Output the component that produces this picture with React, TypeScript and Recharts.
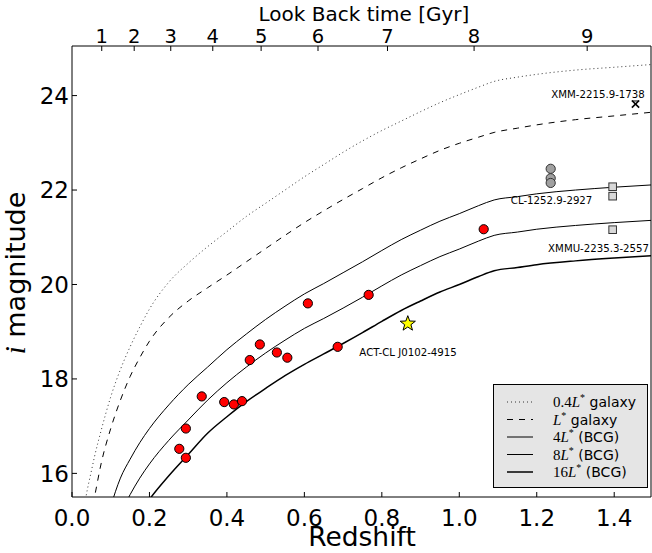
import { ComposedChart, Legend, Line, Scatter, XAxis, YAxis } from "recharts";

// redshift grid shared by the model curves
const zGrid = [0.03, 0.036, 0.05, 0.058, 0.075, 0.1, 0.125, 0.15, 0.175, 0.2, 0.25, 0.3, 0.35, 0.4, 0.45, 0.5, 0.55, 0.6, 0.65, 0.7, 0.75, 0.8, 0.85, 0.9, 0.95, 1.0, 1.05, 1.09, 1.15, 1.2, 1.3, 1.4, 1.5];

// i-band magnitude of each model track (null = off the bottom of the plot)
const mag04L = [15.2, 15.5, 16.05, 16.35, 16.9, 17.62, 18.2, 18.68, 19.1, 19.48, 20.05, 20.45, 20.8, 21.12, 21.44, 21.72, 22.0, 22.28, 22.54, 22.8, 23.04, 23.26, 23.46, 23.66, 23.85, 24.02, 24.18, 24.3, 24.39, 24.45, 24.54, 24.6, 24.66];
const mag1L = [null, 14.6, 15.2, 15.5, 16.2, 16.95, 17.55, 18.05, 18.45, 18.8, 19.3, 19.65, 19.93, 20.2, 20.48, 20.76, 21.04, 21.31, 21.56, 21.8, 22.03, 22.26, 22.47, 22.66, 22.84, 22.99, 23.12, 23.22, 23.31, 23.38, 23.49, 23.57, 23.65];
const mag4L = [null, null, null, null, 14.55, 15.3, 15.9, 16.3, 16.65, 16.95, 17.45, 17.88, 18.25, 18.62, 18.95, 19.26, 19.54, 19.8, 20.02, 20.25, 20.48, 20.72, 20.95, 21.15, 21.34, 21.5, 21.67, 21.79, 21.86, 21.92, 22.0, 22.06, 22.11];
const mag8L = [null, null, null, null, null, null, 15.15, 15.55, 15.9, 16.2, 16.7, 17.13, 17.55, 17.92, 18.25, 18.55, 18.82, 19.07, 19.28, 19.5, 19.73, 19.97, 20.2, 20.4, 20.59, 20.75, 20.92, 21.04, 21.11, 21.17, 21.25, 21.31, 21.36];
const mag16L = [null, null, null, null, null, null, null, null, 15.15, 15.45, 15.95, 16.4, 16.85, 17.2, 17.52, 17.8, 18.07, 18.31, 18.53, 18.75, 18.98, 19.22, 19.45, 19.65, 19.84, 20.0, 20.17, 20.29, 20.36, 20.42, 20.5, 20.56, 20.61];

// BCGs
const bcgZ = [0.277, 0.294, 0.294, 0.335, 0.393, 0.418, 0.439, 0.459, 0.485, 0.529, 0.556, 0.609, 0.686, 0.766, 1.063];
const bcgMag = [16.52, 16.95, 16.33, 17.63, 17.51, 17.46, 17.53, 18.4, 18.73, 18.56, 18.45, 19.6, 18.68, 19.78, 21.17];

const actZ = [0.867];
const actMag = [19.17];

const cl1252Z = [1.236, 1.236, 1.236];
const cl1252Mag = [22.45, 22.25, 22.15];

const xmmuZ = [1.396, 1.396, 1.396];
const xmmuMag = [22.07, 21.87, 21.16];

const xmmZ = [1.455];
const xmmMag = [23.82];

const clusterNames = ["XMM-2215.9-1738", "CL-1252.9-2927", "XMMU-2235.3-2557", "ACT-CL J0102-4915"];
const clusterLabelZ = [1.479, 1.133, 1.49, 0.742];
const clusterLabelMag = [24.02, 21.77, 20.77, 18.55];
const clusterLabelAnchor = ["end", "start", "end", "start"];

const redshiftTicks = [0, 0.2, 0.4, 0.6, 0.8, 1.0, 1.2, 1.4];
const magTicks = [16, 18, 20, 22, 24];
const lookbackGyr = [1, 2, 3, 4, 5, 6, 7, 8, 9];
const lookbackZ = [0.0768, 0.1606, 0.255, 0.3635, 0.4883, 0.6352, 0.8146, 1.0382, 1.3302];

const legendPre = ["0.4", "", "4", "8", "16"];
const legendPost = [" galaxy", " galaxy", " (BCG)", " (BCG)", " (BCG)"];

const curveRows = zGrid.map((z, i) => ({
  z,
  l04: mag04L[i],
  l1: mag1L[i],
  l4: mag4L[i],
  l8: mag8L[i],
  l16: mag16L[i],
}));

const toPoints = (zs: number[], mags: number[]) => zs.map((z, i) => ({ z, mag: mags[i] }));
const labelRows = clusterNames.map((name, i) => ({
  z: clusterLabelZ[i],
  mag: clusterLabelMag[i],
  name,
  anchor: clusterLabelAnchor[i],
}));

const SANS = "'DejaVu Sans', 'Bitstream Vera Sans', sans-serif";
const SERIF = "'Liberation Serif', 'DejaVu Serif', serif";
const X_DOMAIN: [number, number] = [0, 1.495];
const Y_DOMAIN: [number, number] = [15.5, 25.05];

const legendStyles = [
  { dash: "1 3", width: 1, color: "#333" },
  { dash: "6 6", width: 1, color: "#000" },
  { dash: undefined, width: 1, color: "#000" },
  { dash: undefined, width: 1, color: "#000" },
  { dash: undefined, width: 1.5, color: "#000" },
];

function lookbackLabel(v: number) {
  let best = 0;
  lookbackZ.forEach((z, i) => {
    if (Math.abs(z - v) < Math.abs(lookbackZ[best] - v)) best = i;
  });
  return String(lookbackGyr[best]);
}

function RedDot(p: any) {
  return <circle cx={p.cx} cy={p.cy} r={4.6} fill="#ff0000" stroke="#000" strokeWidth={1} />;
}

function GreyDot(p: any) {
  return <circle cx={p.cx} cy={p.cy} r={4.6} fill="#a0a0a0" stroke="#333" strokeWidth={1} />;
}

function GreySquare(p: any) {
  return <rect x={p.cx - 3.8} y={p.cy - 3.8} width={7.6} height={7.6} fill="#d8d8d8" stroke="#333" strokeWidth={1} />;
}

function StarMark(p: any) {
  const pts: string[] = [];
  for (let k = 0; k < 10; k++) {
    const r = k % 2 === 0 ? 8 : 3.3;
    const a = -Math.PI / 2 + (k * Math.PI) / 5;
    pts.push(`${p.cx + r * Math.cos(a)},${p.cy + r * Math.sin(a)}`);
  }
  return <polygon points={pts.join(" ")} fill="#ffff00" stroke="#000" strokeWidth={1} />;
}

function CrossMark(p: any) {
  const s = 3.6;
  return (
    <g stroke="#000" strokeWidth={1.6}>
      <line x1={p.cx - s} y1={p.cy - s} x2={p.cx + s} y2={p.cy + s} />
      <line x1={p.cx - s} y1={p.cy + s} x2={p.cx + s} y2={p.cy - s} />
      <line x1={p.cx - s} y1={p.cy - s + 0.5} x2={p.cx + s} y2={p.cy - s + 0.5} strokeWidth={1} />
    </g>
  );
}

function ClusterLabel(p: any) {
  return (
    <text
      x={p.cx}
      y={p.cy}
      textAnchor={p.payload.anchor}
      dominantBaseline="central"
      fontFamily={SANS}
      fontSize={10.2}
      fill="#000"
    >
      {p.payload.name}
    </text>
  );
}

function LegendBox() {
  return (
    <svg width={156} height={106} style={{ display: "block" }}>
      <rect x={0.5} y={0.5} width={154} height={103} fill="#e5e5e5" stroke="#000" strokeWidth={1} />
      {legendPost.map((post, i) => {
        const y = 18 + i * 17.5;
        const st = legendStyles[i];
        return (
          <g key={i}>
            <line x1={14} x2={40} y1={y} y2={y} stroke={st.color} strokeWidth={st.width} strokeDasharray={st.dash} />
            <text x={60} y={y + 5} fontSize={14} fill="#000">
              <tspan fontFamily={SERIF} fontSize={15}>{legendPre[i]}</tspan>
              <tspan fontFamily={SERIF} fontSize={15} fontStyle="italic">L</tspan>
              <tspan fontFamily={SERIF} fontSize={10} dy={-6}>*</tspan>
              <tspan fontFamily={SANS} dy={6}>{post}</tspan>
            </text>
          </g>
        );
      })}
    </svg>
  );
}

function BottomTitle() {
  return (
    <text x={362} y={546} textAnchor="middle" fontFamily={SANS} fontSize={26.5} fill="#000">
      Redshift
    </text>
  );
}

function TopTitle() {
  return (
    <text x={364} y={21} textAnchor="middle" fontFamily={SANS} fontSize={20} fill="#000">
      Look Back time [Gyr]
    </text>
  );
}

function LeftTitle() {
  return (
    <text
      x={25}
      y={273}
      transform="rotate(-90 25 273)"
      textAnchor="middle"
      fontFamily={SANS}
      fontSize={27}
      fill="#000"
    >
      <tspan fontFamily={SERIF} fontStyle="italic" fontSize={29}>i</tspan>
      <tspan> magnitude</tspan>
    </text>
  );
}

const tickFont = { fontFamily: SANS, fill: "#000" };

export default function App() {
  return (
    <div style={{ position: "absolute", left: 0, top: 0, width: 652, height: 553, background: "#fff" }}>
      <ComposedChart width={652} height={553} data={curveRows} margin={{ top: 0, right: 0, bottom: 0, left: 0 }}>
        <XAxis
          xAxisId="bottom"
          dataKey="z"
          type="number"
          orientation="bottom"
          domain={X_DOMAIN}
          allowDataOverflow
          ticks={redshiftTicks}
          interval={0}
          tickFormatter={(v: number) => v.toFixed(1)}
          height={56}
          tickSize={-5}
          tickMargin={18}
          tick={{ ...tickFont, fontSize: 23 }}
          stroke="#000"
          label={<BottomTitle />}
        />
        <XAxis
          xAxisId="top"
          dataKey="z"
          type="number"
          orientation="top"
          domain={X_DOMAIN}
          allowDataOverflow
          ticks={lookbackZ}
          interval={0}
          tickFormatter={lookbackLabel}
          height={46}
          tickSize={-5}
          tickMargin={8}
          tick={{ ...tickFont, fontSize: 19.5 }}
          stroke="#000"
          label={<TopTitle />}
        />
        <YAxis
          yAxisId="left"
          type="number"
          orientation="left"
          domain={Y_DOMAIN}
          allowDataOverflow
          ticks={magTicks}
          interval={0}
          width={72}
          tickSize={-5}
          tickMargin={8}
          tick={{ ...tickFont, fontSize: 23 }}
          stroke="#000"
          label={<LeftTitle />}
        />
        <YAxis
          yAxisId="right"
          type="number"
          orientation="right"
          domain={Y_DOMAIN}
          allowDataOverflow
          ticks={magTicks}
          interval={0}
          width={1}
          tickSize={-5}
          tick={false}
          stroke="#000"
        />
        <Legend
          layout="vertical"
          align="center"
          verticalAlign="middle"
          content={<LegendBox />}
          wrapperStyle={{ left: 493, top: 384, width: 156, height: 106 }}
        />

        {/* invisible series so the look-back axis gets its own scale */}
        <Line xAxisId="top" yAxisId="right" dataKey="l16" stroke="none" dot={false} activeDot={false} legendType="none" isAnimationActive={false} />

        <Line xAxisId="bottom" yAxisId="left" name="0.4L* galaxy" dataKey="l04" type="monotone" stroke="#333" strokeWidth={1} strokeDasharray="1 3" dot={false} activeDot={false} isAnimationActive={false} />
        <Line xAxisId="bottom" yAxisId="left" name="L* galaxy" dataKey="l1" type="monotone" stroke="#000" strokeWidth={1} strokeDasharray="6 6" dot={false} activeDot={false} isAnimationActive={false} />
        <Line xAxisId="bottom" yAxisId="left" name="4L* (BCG)" dataKey="l4" type="monotone" stroke="#000" strokeWidth={1} dot={false} activeDot={false} isAnimationActive={false} />
        <Line xAxisId="bottom" yAxisId="left" name="8L* (BCG)" dataKey="l8" type="monotone" stroke="#000" strokeWidth={1} dot={false} activeDot={false} isAnimationActive={false} />
        <Line xAxisId="bottom" yAxisId="left" name="16L* (BCG)" dataKey="l16" type="monotone" stroke="#000" strokeWidth={1.5} dot={false} activeDot={false} isAnimationActive={false} />

        <Scatter xAxisId="bottom" yAxisId="left" data={toPoints(bcgZ, bcgMag)} dataKey="mag" shape={RedDot} isAnimationActive={false} />
        <Scatter xAxisId="bottom" yAxisId="left" data={toPoints(actZ, actMag)} dataKey="mag" shape={StarMark} isAnimationActive={false} />
        <Scatter xAxisId="bottom" yAxisId="left" data={toPoints(cl1252Z, cl1252Mag)} dataKey="mag" shape={GreyDot} isAnimationActive={false} />
        <Scatter xAxisId="bottom" yAxisId="left" data={toPoints(xmmuZ, xmmuMag)} dataKey="mag" shape={GreySquare} isAnimationActive={false} />
        <Scatter xAxisId="bottom" yAxisId="left" data={toPoints(xmmZ, xmmMag)} dataKey="mag" shape={CrossMark} isAnimationActive={false} />
        <Scatter xAxisId="bottom" yAxisId="left" data={labelRows} dataKey="mag" shape={ClusterLabel} isAnimationActive={false} />
      </ComposedChart>
    </div>
  );
}
